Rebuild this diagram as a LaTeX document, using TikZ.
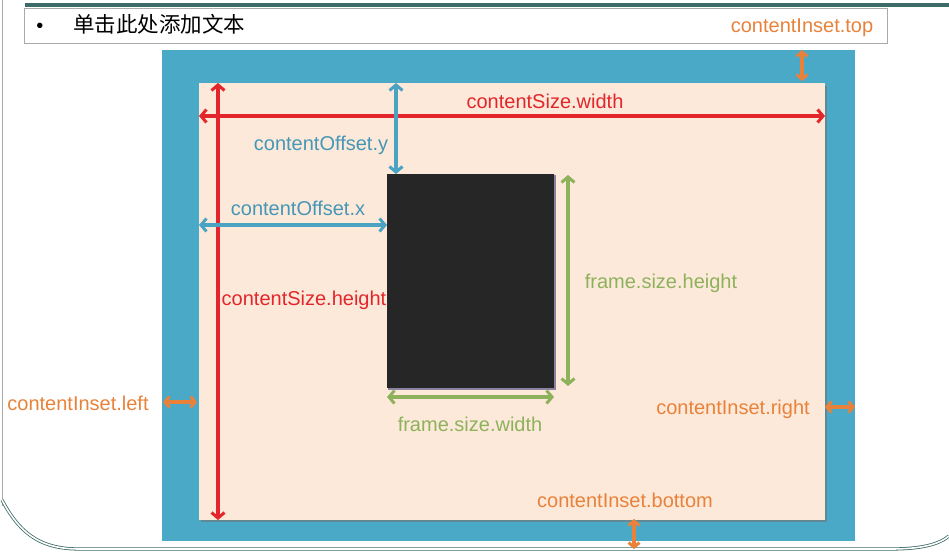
\documentclass[tikz,border=0pt]{standalone}
\usepackage{fontspec}
\setmainfont{Liberation Sans}
\newfontfamily\cjk{Noto Sans CJK SC}
\usetikzlibrary{arrows.meta}
\definecolor{cblue}{HTML}{4AA9C7}
\definecolor{cpeach}{HTML}{FDE9DA}
\definecolor{cdark}{HTML}{262626}
\definecolor{cred}{HTML}{E2262B}
\definecolor{carrblue}{HTML}{4AA3C2}
\definecolor{ctxtblue}{HTML}{4597B6}
\definecolor{cgreen}{HTML}{8DB25B}
\definecolor{corange}{HTML}{E8823A}
\definecolor{cteal}{HTML}{3E6B68}
\definecolor{cgrayline}{HTML}{AAAAAA}
\tikzset{
  dim/.style={line width=3.4pt,{Straight Barb[length=5.5pt,width=13pt,line width=3pt]}-{Straight Barb[length=5.5pt,width=13pt,line width=3pt]}},
  smalldim/.style={line width=3.4pt,{Straight Barb[length=4.5pt,width=11pt,line width=3pt]}-{Straight Barb[length=4.5pt,width=11pt,line width=3pt]}},
  lbl/.style={font=\fontsize{20}{24}\selectfont, inner sep=0pt, anchor=base},
  boxrect/.style={inner sep=0pt, outer sep=0pt, anchor=north west}
}
\begin{document}
\begin{tikzpicture}[x=1pt,y=-1pt]
\useasboundingbox (0,0) rectangle (949,551);
% slide frame
\draw[cgrayline, line width=0.9pt] (2,0) -- (2,506);
\draw[cteal, line width=0.8pt, double=white, double distance=1.6pt]
  (2,500) .. controls (22,538) and (45,549) .. (80,549) -- (890,549)
  .. controls (920,549) and (938,545) .. (949,536);
\draw[cteal, line width=3.6pt] (25,5) -- (949,5);
% text box
\node[boxrect, draw=cgrayline, line width=0.8pt, minimum width=863pt, minimum height=35pt] (tbox) at (24,8) {};
\node[font=\fontsize{20}{24}\selectfont, anchor=base] (bullet) at (40,33) {•};
\node[font=\cjk\fontsize{21.5}{24}\selectfont, anchor=base west, inner sep=0pt] (title) at (73,33) {单击此处添加文本};
% rectangles
\node[boxrect, fill=cblue, minimum width=693pt, minimum height=491pt] (outer) at (162,50) {};
\fill[black!55, opacity=0.6] (201,86) rectangle (827,522);
\node[boxrect, fill=cpeach, minimum width=626pt, minimum height=437pt] (content) at (199,83) {};
\fill[cdark!70!blue, opacity=0.5] (388,175) rectangle (556,390);
\node[boxrect, fill=cdark, minimum width=167pt, minimum height=214pt] (frame) at (387,174) {};
% coordinates
\coordinate (wL) at (199,116);
\coordinate (wR) at (825,116);
\coordinate (hT) at (218,83);
\coordinate (hB) at (218,520);
\coordinate (oyT) at (396,83);
\coordinate (oyB) at (396,174);
\coordinate (oxL) at (199,225);
\coordinate (oxR) at (387,225);
\coordinate (fhT) at (568,175);
\coordinate (fhB) at (568,386);
\coordinate (fwL) at (387,397);
\coordinate (fwR) at (554,397);
\coordinate (itT) at (802,50);
\coordinate (itB) at (802,81);
\coordinate (ilL) at (163,402);
\coordinate (ilR) at (197,402);
\coordinate (irL) at (825,407);
\coordinate (irR) at (855,407);
\coordinate (ibT) at (634,519);
\coordinate (ibB) at (634,549);
% red
\draw[dim, cred] (wL) -- (wR);
\draw[dim, cred] (hT) -- (hB);
\node[lbl, text=cred] (lw) at (545,108) {contentSize.width};
\node[lbl, text=cred] (lh) at (304,305) {contentSize.height};
% blue
\draw[dim, carrblue] (oyT) -- (oyB);
\draw[dim, carrblue] (oxL) -- (oxR);
\node[lbl, text=ctxtblue] (loy) at (321,150) {contentOffset.y};
\node[lbl, text=ctxtblue] (lox) at (298,215) {contentOffset.x};
% green
\draw[dim, cgreen] (fhT) -- (fhB);
\draw[dim, cgreen] (fwL) -- (fwR);
\node[lbl, text=cgreen] (lfh) at (661,288) {frame.size.height};
\node[lbl, text=cgreen] (lfw) at (470,431) {frame.size.width};
% orange
\draw[smalldim, corange] (itT) -- (itB);
\draw[smalldim, corange] (ilL) -- (ilR);
\draw[smalldim, corange] (irL) -- (irR);
\draw[smalldim, corange] (ibT) -- (ibB);
\node[lbl, text=corange] (lit) at (802,33) {contentInset.top};
\node[lbl, text=corange] (lil) at (78,410) {contentInset.left};
\node[lbl, text=corange] (lir) at (733,414) {contentInset.right};
\node[lbl, text=corange] (lib) at (625,507) {contentInset.bottom};
\end{tikzpicture}
\end{document}
